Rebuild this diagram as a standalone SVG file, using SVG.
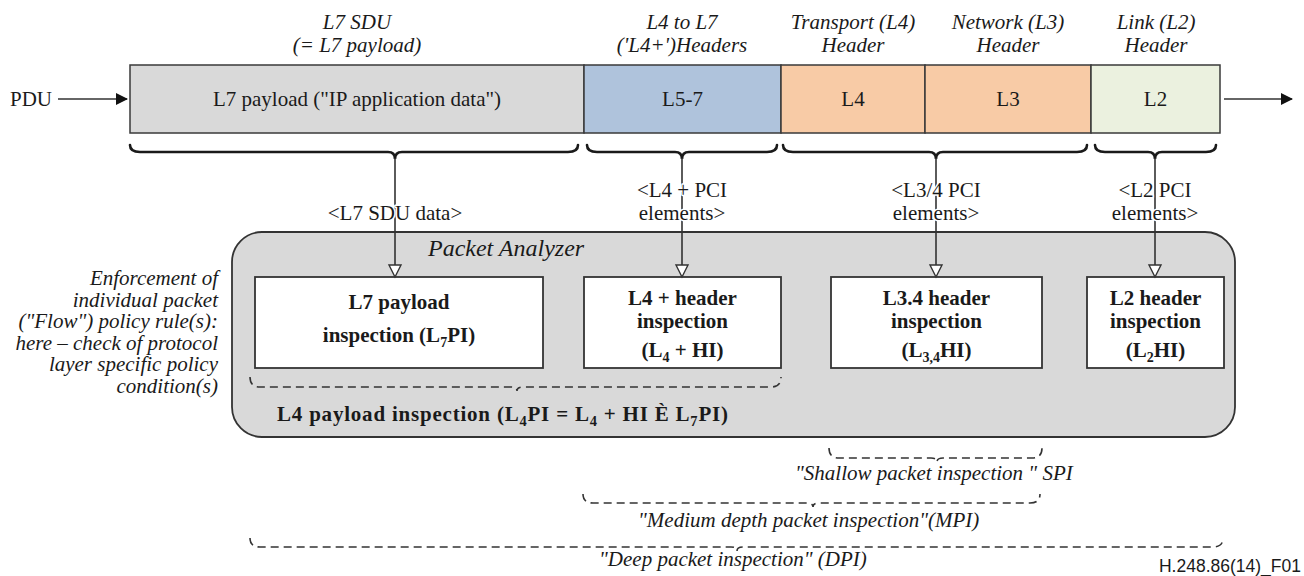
<svg xmlns="http://www.w3.org/2000/svg" width="1304" height="576" viewBox="0 0 1304 576" font-family="Liberation Serif, Times New Roman, serif">
  <style>
    text { fill: #1a1a1a; }
    .t { font-size: 21px; }
    .it { font-size: 21px; font-style: italic; }
    .b { font-size: 21px; font-weight: bold; }
    .lbl { font-size: 21px; stroke: #ffffff; stroke-width: 3px; paint-order: stroke; stroke-linejoin: round; }
    .title { font-size: 24px; font-style: italic; }
    .note { font-size: 21px; font-style: italic; }
    .seg { stroke: #3a3a3a; stroke-width: 1.5; }
    .brace { fill: none; stroke: #1a1a1a; stroke-width: 2.6; stroke-linecap: round; }
    .dbrace { fill: none; stroke: #333333; stroke-width: 1.6; stroke-dasharray: 8 5; }
    .line { fill: none; stroke: #333333; stroke-width: 1.6; }
    .head { fill: #ffffff; stroke: #333333; stroke-width: 1.4; }
    .box { fill: #ffffff; stroke: #333333; stroke-width: 1.8; }
    .ref { font-size: 17.5px; }
  </style>
  <defs>
    <marker id="solidArrow" markerWidth="12" markerHeight="12" refX="11" refY="6" orient="auto" markerUnits="userSpaceOnUse">
      <path d="M0,0 L12,6 L0,12 Z" fill="#111111"/>
    </marker>
  </defs>

  <!-- layer captions above the PDU -->
  <g id="captions" text-anchor="middle">
    <text class="it" x="357" y="29">L7 SDU</text>
    <text class="it" x="357" y="52">(= L7 payload)</text>
    <text class="it" x="682" y="29">L4 to L7</text>
    <text class="it" x="682" y="52">('L4+')Headers</text>
    <text class="it" x="853" y="29">Transport (L4)</text>
    <text class="it" x="853" y="52">Header</text>
    <text class="it" x="1008" y="29">Network (L3)</text>
    <text class="it" x="1008" y="52">Header</text>
    <text class="it" x="1156" y="29">Link (L2)</text>
    <text class="it" x="1156" y="52">Header</text>
  </g>

  <!-- PDU bar -->
  <g id="pdu">
    <text class="t" x="10" y="106">PDU</text>
    <rect class="seg" x="130" y="65" width="454" height="68" fill="#d9d9d9"/>
    <text class="t" x="357" y="106" text-anchor="middle">L7 payload ("IP application data")</text>
  </g>
  <g id="seg-l57">
    <rect class="seg" x="584" y="65" width="197" height="68" fill="#afc3dc"/>
    <text class="t" x="682.5" y="106" text-anchor="middle">L5-7</text>
  </g>
  <g id="seg-l4">
    <rect class="seg" x="781" y="65" width="144" height="68" fill="#f8cba6"/>
    <text class="t" x="853" y="106" text-anchor="middle">L4</text>
  </g>
  <g id="seg-l3">
    <rect class="seg" x="925" y="65" width="166" height="68" fill="#f8cba6"/>
    <text class="t" x="1008" y="106" text-anchor="middle">L3</text>
  </g>
  <g id="seg-l2">
    <rect class="seg" x="1091" y="65" width="129" height="68" fill="#ebf1df"/>
    <text class="t" x="1155.5" y="106" text-anchor="middle">L2</text>
  </g>

  <!-- Packet analyzer container -->
  <g id="analyzer">
    <rect x="232" y="232" width="1003" height="205" rx="30" ry="30" fill="#d9d9d9" stroke="#333333" stroke-width="1.8"/>
    <text class="title" x="428" y="256">Packet Analyzer</text>
  </g>

  <g id="l7pi">
    <rect class="box" x="255" y="277" width="288" height="91"/>
    <text class="b" x="399" y="309" text-anchor="middle">L7 payload</text>
    <text class="b" x="399" y="342" text-anchor="middle">inspection (L<tspan font-size="14" dy="5">7</tspan><tspan dy="-5">PI)</tspan></text>
  </g>
  <g id="l4hi">
    <rect class="box" x="584" y="277" width="197" height="91"/>
    <text class="b" x="682.5" y="305" text-anchor="middle">L4 + header</text>
    <text class="b" x="682.5" y="328" text-anchor="middle">inspection</text>
    <text class="b" x="682.5" y="357" text-anchor="middle">(L<tspan font-size="14" dy="5">4</tspan><tspan dy="-5"> + HI)</tspan></text>
  </g>
  <g id="l34hi">
    <rect class="box" x="831" y="277" width="211" height="91"/>
    <text class="b" x="936.5" y="305" text-anchor="middle">L3.4 header</text>
    <text class="b" x="936.5" y="328" text-anchor="middle">inspection</text>
    <text class="b" x="936.5" y="357" text-anchor="middle">(L<tspan font-size="14" dy="5">3,4</tspan><tspan dy="-5">HI)</tspan></text>
  </g>
  <g id="l2hi">
    <rect class="box" x="1087" y="277" width="137" height="91"/>
    <text class="b" x="1155.5" y="305" text-anchor="middle">L2 header</text>
    <text class="b" x="1155.5" y="328" text-anchor="middle">inspection</text>
    <text class="b" x="1155.5" y="357" text-anchor="middle">(L<tspan font-size="14" dy="5">2</tspan><tspan dy="-5">HI)</tspan></text>
  </g>

  <g id="l4pi">
    <text class="b" x="277" y="421" textLength="451" lengthAdjust="spacing">L4 payload inspection (L<tspan font-size="14.5" dy="5">4</tspan><tspan dy="-5">PI = L</tspan><tspan font-size="14.5" dy="5">4</tspan><tspan dy="-5"> + HI È L</tspan><tspan font-size="14.5" dy="5">7</tspan><tspan dy="-5">PI)</tspan></text>
  </g>

  <!-- policy enforcement note -->
  <g id="note" text-anchor="end">
    <text class="note" x="218" y="285">Enforcement of</text>
    <text class="note" x="218" y="306.6">individual packet</text>
    <text class="note" x="218" y="328.2">("Flow") policy rule(s):</text>
    <text class="note" x="218" y="349.8">here – check of protocol</text>
    <text class="note" x="218" y="371.4">layer specific policy</text>
    <text class="note" x="218" y="393">condition(s)</text>
  </g>

  <!-- inspection scope labels -->
  <g id="scopes">
    <text class="it" x="795" y="480">"Shallow packet inspection " SPI</text>
    <text class="it" x="638" y="527">"Medium depth packet inspection"(MPI)</text>
    <text class="it" x="599" y="566">"Deep packet inspection" (DPI)</text>
    <text class="ref" x="1301" y="572" text-anchor="end" font-family="Liberation Sans, Arial, sans-serif">H.248.86(14)_F01</text>
  </g>

  <!-- connectors -->
  <g id="connectors">
    <!-- PDU in/out -->
    <line class="line" x1="58" y1="99" x2="127" y2="99" stroke="#111111" marker-end="url(#solidArrow)"/>
    <line class="line" x1="1224" y1="99" x2="1292" y2="99" stroke="#111111" marker-end="url(#solidArrow)"/>

    <!-- solid braces under the PDU -->
    <path class="brace" d="M130,145 Q130,152 140,152 L388,152 Q395,152 395,159 Q395,152 402,152 L568,152 Q578,152 578,145"/>
    <path class="brace" d="M587,145 Q587,152 597,152 L675,152 Q682,152 682,159 Q682,152 689,152 L767,152 Q777,152 777,145"/>
    <path class="brace" d="M783,145 Q783,152 793,152 L929,152 Q936,152 936,159 Q936,152 943,152 L1077,152 Q1087,152 1087,145"/>
    <path class="brace" d="M1095,145 Q1095,152 1105,152 L1148,152 Q1155,152 1155,159 Q1155,152 1162,152 L1206,152 Q1216,152 1216,145"/>

    <!-- feeds into the inspection boxes -->
    <line class="line" x1="395" y1="158" x2="395" y2="265"/>
    <polygon class="head" points="389,265 401,265 395,277"/>
    <line class="line" x1="682" y1="158" x2="682" y2="265"/>
    <polygon class="head" points="676,265 688,265 682,277"/>
    <line class="line" x1="936" y1="158" x2="936" y2="265"/>
    <polygon class="head" points="930,265 942,265 936,277"/>
    <line class="line" x1="1155" y1="158" x2="1155" y2="265"/>
    <polygon class="head" points="1149,265 1161,265 1155,277"/>

    <!-- feed labels -->
    <g text-anchor="middle">
      <text class="lbl" x="395" y="220">&lt;L7 SDU data&gt;</text>
      <text class="lbl" x="682" y="197">&lt;L4 + PCI</text>
      <text class="lbl" x="682" y="220">elements&gt;</text>
      <text class="lbl" x="936" y="197">&lt;L3/4 PCI</text>
      <text class="lbl" x="936" y="220">elements&gt;</text>
      <text class="lbl" x="1155" y="197">&lt;L2 PCI</text>
      <text class="lbl" x="1155" y="220">elements&gt;</text>
    </g>

    <!-- dashed scope braces -->
    <path class="dbrace" d="M250,377 Q250,387 260,387 L511,387 Q517,387 517,391 Q517,387 523,387 L771,387 Q781,387 781,377"/>
    <path class="dbrace" d="M829,448 Q829,458 839,458 L931,458 Q937,458 937,462 Q937,458 943,458 L1032,458 Q1042,458 1042,448"/>
    <path class="dbrace" d="M583,494 Q583,503 593,503 L807,503 Q813,503 813,507 Q813,503 819,503 L1030,503 Q1040,503 1040,494"/>
    <path class="dbrace" d="M250,538 Q250,547 260,547 L731,547 Q737,547 737,551 Q737,547 743,547 L1213,547 Q1223,547 1223,538"/>
  </g>
</svg>
